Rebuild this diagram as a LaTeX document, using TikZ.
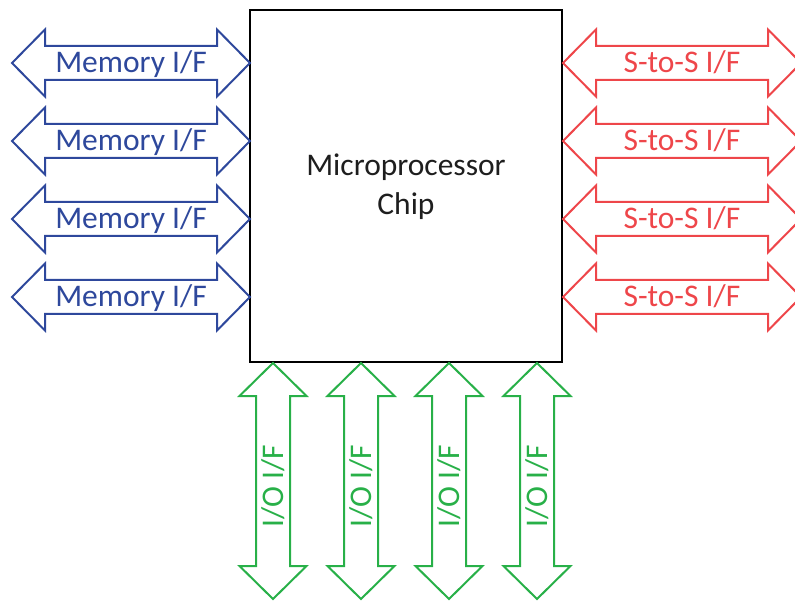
\documentclass[tikz,border=0pt]{standalone}
\usepackage{fontspec}
\setmainfont{Carlito}
\definecolor{memblue}{RGB}{46,72,156}
\definecolor{ssred}{RGB}{238,70,74}
\definecolor{iogreen}{RGB}{40,176,72}
\definecolor{chipink}{RGB}{30,30,30}
\newcommand{\harrowpath}[3]{% cx, cy, colour
  \draw[arrowline,#3] (#1-119,#2) -- (#1-86,#2-33.5) -- (#1-86,#2-17) -- (#1+86,#2-17)
    -- (#1+86,#2-33.5) -- (#1+119,#2) -- (#1+86,#2+33.5) -- (#1+86,#2+17)
    -- (#1-86,#2+17) -- (#1-86,#2+33.5) -- cycle;}
\newcommand{\varrowpath}[3]{% cx, cy, colour
  \draw[arrowline,#3] (#1,#2-118) -- (#1+33.5,#2-85) -- (#1+17,#2-85) -- (#1+17,#2+85)
    -- (#1+33.5,#2+85) -- (#1,#2+118) -- (#1-33.5,#2+85) -- (#1-17,#2+85)
    -- (#1-17,#2-85) -- (#1-33.5,#2-85) -- cycle;}
\begin{document}
\begin{tikzpicture}[x=1pt,y=-1pt,
  arrowline/.style={line width=2pt,line join=miter},
  lbl/.style={font=\fontsize{31.5}{36}\selectfont,inner sep=0pt,anchor=base},
  chipbox/.style={draw=black,line width=2pt,minimum width=312pt,minimum height=352pt,inner sep=0pt}]
\useasboundingbox (0,0) rectangle (795,601);
\clip (0,0) rectangle (795,601);
\node[chipbox] (chip) at (406,186) {};
\node[lbl,text=chipink] (t1) at (406,176) {Microprocessor};
\node[lbl,text=chipink] (t2) at (406,215) {Chip};
\foreach \i/\cy in {1/63,2/141,3/219,4/297}{
  \harrowpath{131}{\cy}{draw=memblue}
  \node[lbl,text=memblue] (mem\i) at (131,\cy+10) {Memory I/F};
  \harrowpath{682}{\cy}{draw=ssred}
  \node[lbl,text=ssred] (ss\i) at (682,\cy+10) {S-to-S I/F};
}
\foreach \i/\cx in {1/273,2/361,3/449,4/537}{
  \varrowpath{\cx}{481}{draw=iogreen}
  \node[lbl,text=iogreen,rotate=90] (io\i) at (\cx+10,486) {I/O I/F};
}
\end{tikzpicture}
\end{document}
